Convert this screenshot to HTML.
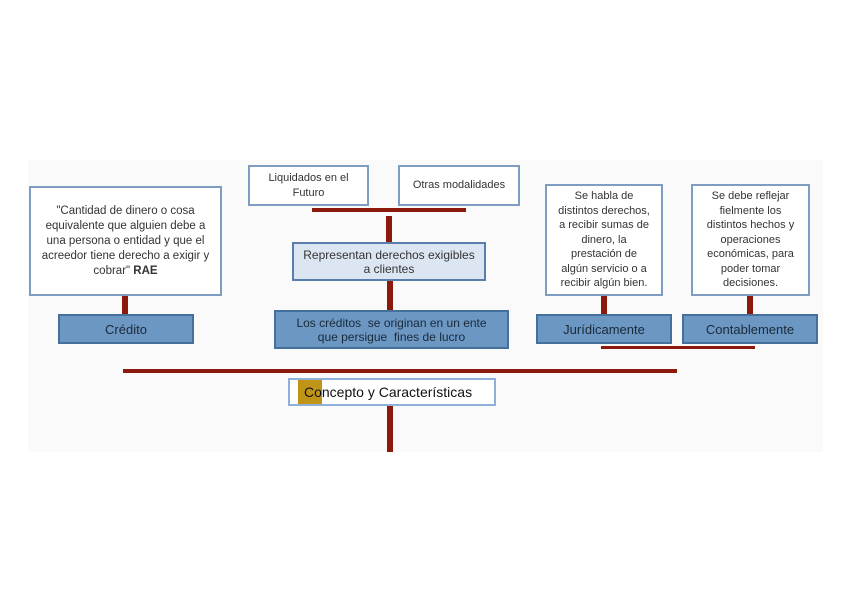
<!DOCTYPE html>
<html><head><meta charset="utf-8"><style>
body{margin:0;width:848px;height:599px;background:#fff;position:relative;overflow:hidden;font-family:"Liberation Sans",sans-serif;}
.a{position:absolute;box-sizing:border-box;}
.bg{left:28px;top:160px;width:795px;height:292px;background:#fafafa;}
.w{background:#fff;border:2px solid #7f9cc2;display:flex;align-items:center;justify-content:center;text-align:center;color:#333;font-size:11px;line-height:14.5px;}
.d{background:#6c97c3;border:2px solid #44709e;display:flex;align-items:center;justify-content:center;text-align:center;color:#1a2a3a;}
.l{background:#dce6f3;border:2px solid #5a7eac;display:flex;align-items:center;justify-content:center;text-align:center;color:#333;font-size:12px;line-height:14px;}
.r{background:#8b1a0c;}
</style></head><body>
<div class="a bg"></div>
<div class="a w" style="left:29px;top:186px;width:193px;height:110px;font-size:11.5px;line-height:15px;"><div>"Cantidad de dinero o cosa<br>equivalente que alguien debe a<br>una persona o entidad y que el<br>acreedor tiene derecho a exigir y<br>cobrar" <b>RAE</b></div></div>
<div class="a r" style="left:122px;top:296px;width:6px;height:18px;"></div>
<div class="a d" style="left:58px;top:314px;width:136px;height:30px;font-size:13px;">Crédito</div>

<div class="a w" style="left:248px;top:165px;width:121px;height:41px;"><div>Liquidados en el<br>Futuro</div></div>
<div class="a w" style="left:398px;top:165px;width:122px;height:41px;">Otras modalidades</div>
<div class="a r" style="left:312px;top:208px;width:154px;height:4px;"></div>
<div class="a r" style="left:386px;top:216px;width:6px;height:26px;"></div>
<div class="a l" style="left:292px;top:242px;width:194px;height:39px;"><div>Representan derechos exigibles<br>a clientes</div></div>
<div class="a r" style="left:387px;top:281px;width:6px;height:29px;"></div>
<div class="a d" style="left:274px;top:310px;width:235px;height:39px;font-size:12px;line-height:14px;"><div>Los créditos &nbsp;se originan en un ente<br>que persigue &nbsp;fines de lucro</div></div>

<div class="a r" style="left:123px;top:369px;width:554px;height:4px;"></div>
<div class="a" style="left:288px;top:378px;width:208px;height:28px;background:#fff;border:2px solid #8fb0d8;"></div>
<div class="a" style="left:298px;top:380px;width:24px;height:24px;background:#c09417;"></div>
<div class="a" style="left:304px;top:384px;font-size:14px;color:#111;">Concepto y Características</div>
<div class="a r" style="left:387px;top:406px;width:6px;height:46px;"></div>

<div class="a w" style="left:545px;top:184px;width:118px;height:112px;"><div>Se habla de<br>distintos derechos,<br>a recibir sumas de<br>dinero, la<br>prestación de<br>algún servicio o a<br>recibir algún bien.</div></div>
<div class="a w" style="left:691px;top:184px;width:119px;height:112px;"><div>Se debe reflejar<br>fielmente los<br>distintos hechos y<br>operaciones<br>económicas, para<br>poder tomar<br>decisiones.</div></div>
<div class="a r" style="left:601px;top:296px;width:6px;height:18px;"></div>
<div class="a r" style="left:747px;top:296px;width:6px;height:18px;"></div>
<div class="a d" style="left:536px;top:314px;width:136px;height:30px;font-size:13px;">Jurídicamente</div>
<div class="a d" style="left:682px;top:314px;width:136px;height:30px;font-size:13px;">Contablemente</div>
<div class="a r" style="left:601px;top:346px;width:154px;height:3px;"></div>
</body></html>
